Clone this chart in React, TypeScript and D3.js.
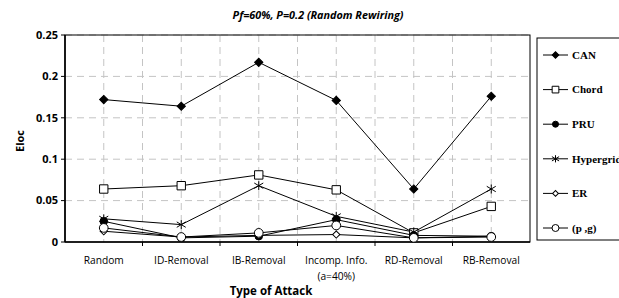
import React from 'react'
import * as d3 from 'd3'

const categories = [
  ['Random'],
  ['ID-Removal'],
  ['IB-Removal'],
  ['Incomp. Info.', '(a=40%)'],
  ['RD-Removal'],
  ['RB-Removal']
]
const yTicks = [0, 0.05, 0.1, 0.15, 0.2, 0.25]
const yTickLabels = ['0', '0.05', '0.1', '0.15', '0.2', '0.25']

const canValues = [0.172, 0.164, 0.217, 0.171, 0.064, 0.176]
const chordValues = [0.064, 0.068, 0.081, 0.063, 0.011, 0.043]
const pruValues = [0.025, 0.005, 0.007, 0.027, 0.008, 0.007]
const hyperValues = [0.028, 0.021, 0.068, 0.031, 0.012, 0.064]
const erValues = [0.013, 0.006, 0.008, 0.009, 0.005, 0.007]
const pgValues = [0.017, 0.006, 0.011, 0.020, 0.005, 0.006]

const seriesNames = ['CAN', 'Chord', 'PRU', 'Hypergrid', 'ER', '(p ,g)']

type Marker = 'diamondFilled' | 'square' | 'circleFilled' | 'star' | 'diamondOpen' | 'circleOpen'

const seriesList: { name: string; values: number[]; marker: Marker }[] = [
  { name: seriesNames[0], values: canValues, marker: 'diamondFilled' },
  { name: seriesNames[1], values: chordValues, marker: 'square' },
  { name: seriesNames[2], values: pruValues, marker: 'circleFilled' },
  { name: seriesNames[3], values: hyperValues, marker: 'star' },
  { name: seriesNames[4], values: erValues, marker: 'diamondOpen' },
  { name: seriesNames[5], values: pgValues, marker: 'circleOpen' }
]

function MarkerShape({ kind, x, y, scale = 1 }: { kind: Marker; x: number; y: number; scale?: number }) {
  if (kind === 'star') {
    const r = 4.5 * scale
    return <path transform={`translate(${x},${y})`} d={`M0,${-r}L0,${r}M${-r},${-r * 0.6}L${r},${r * 0.6}M${-r},${r * 0.6}L${r},${-r * 0.6}`} stroke="#000" strokeWidth={1} fill="none" />
  }
  const sizes: Record<string, number> = { diamondFilled: 34, square: 70, circleFilled: 45, diamondOpen: 26, circleOpen: 60 }
  const isDiamond = kind === 'diamondFilled' || kind === 'diamondOpen'
  const type = kind === 'circleFilled' || kind === 'circleOpen' ? d3.symbolCircle : d3.symbolSquare
  const filled = kind === 'diamondFilled' || kind === 'circleFilled'
  const d = d3.symbol().type(type).size(sizes[kind] * scale * scale)() || ''
  return <path transform={`translate(${x},${y})${isDiamond ? ' rotate(45)' : ''}`} d={d} fill={filled ? '#000' : '#fff'} stroke="#000" strokeWidth={1} />
}

export default function App() {
  const width = 619
  const height = 298
  const plot = { left: 65, right: 530, top: 35, bottom: 242 }

  const x = d3.scaleBand<number>().domain(d3.range(categories.length)).range([plot.left, plot.right]).padding(0)
  const y = d3.scaleLinear().domain([0, 0.25]).range([plot.bottom, plot.top])
  const bw = x.bandwidth()
  const cx = (i: number) => (x(i) as number) + bw / 2
  const line = d3.line<number>().x((_, i) => cx(i)).y(v => y(v))

  const vGrid: number[] = []
  categories.forEach((_, i) => {
    vGrid.push(cx(i))
    if (i > 0) vGrid.push(x(i) as number)
  })

  const sans = "'Open Sans', 'Liberation Sans', sans-serif"
  const legend = { x: 537, y: 38, w: 90, h: 202, lineX1: 543, lineX2: 568, step: 34.6, first: 55 }

  return (
    <svg width={width} height={height} style={{ position: 'absolute', left: 0, top: 0, background: '#fff' }}>
      <text x={318} y={19} textAnchor="middle" fontFamily={sans} fontSize={10.8} fontWeight="bold" fontStyle="italic">Pf=60%, P=0.2 (Random Rewiring)</text>

      {yTicks.slice(1).map(t => (
        <line key={`hg${t}`} x1={plot.left} x2={plot.right} y1={y(t)} y2={y(t)} stroke="#c4c4c4" strokeDasharray="7,5" />
      ))}
      {vGrid.map((g, i) => (
        <line key={`vg${i}`} x1={g} x2={g} y1={plot.top} y2={plot.bottom} stroke="#c4c4c4" strokeDasharray="7,5" />
      ))}

      <rect x={plot.left} y={plot.top} width={plot.right - plot.left} height={plot.bottom - plot.top} fill="none" stroke="#000" strokeWidth={1} />
      <line x1={plot.left} x2={plot.left} y1={plot.top} y2={plot.bottom} stroke="#000" strokeWidth={1.6} />
      <line x1={plot.left} x2={plot.right} y1={plot.bottom} y2={plot.bottom} stroke="#000" strokeWidth={1.6} />

      {yTicks.map((t, i) => (
        <g key={`yt${t}`}>
          <line x1={plot.left - 4} x2={plot.left} y1={y(t)} y2={y(t)} stroke="#000" />
          <text x={plot.left - 7} y={y(t)} dy="0.35em" textAnchor="end" fontFamily={sans} fontSize={11} fontWeight="bold">{yTickLabels[i]}</text>
        </g>
      ))}
      {categories.map((_, i) => i > 0 && (
        <line key={`xt${i}`} x1={x(i) as number} x2={x(i) as number} y1={plot.bottom} y2={plot.bottom + 4} stroke="#000" />
      ))}
      {categories.map((lines, i) => (
        <text key={`xl${i}`} x={cx(i)} y={264} textAnchor="middle" fontFamily={sans} fontSize={10.2}>
          {lines.map((l, j) => <tspan key={j} x={cx(i)} dy={j === 0 ? 0 : 16}>{l}</tspan>)}
        </text>
      ))}

      <text x={271} y={295} textAnchor="middle" fontFamily={sans} fontSize={11.5} fontWeight="bold">Type of Attack</text>
      <text transform={`translate(24,141) rotate(-90)`} textAnchor="middle" fontFamily={sans} fontSize={11} fontWeight="bold">Eloc</text>

      {seriesList.map(s => (
        <path key={`l${s.name}`} d={line(s.values) || ''} fill="none" stroke="#000" strokeWidth={1} />
      ))}
      {seriesList.map(s => (
        <g key={`m${s.name}`}>
          {s.values.map((v, i) => <MarkerShape key={i} kind={s.marker} x={cx(i)} y={y(v)} />)}
        </g>
      ))}

      <rect x={legend.x} y={legend.y} width={legend.w} height={legend.h} fill="#fff" stroke="#000" />
      {seriesList.map((s, i) => {
        const ly = legend.first + i * legend.step
        return (
          <g key={`lg${s.name}`}>
            <line x1={legend.lineX1} x2={legend.lineX2} y1={ly} y2={ly} stroke="#000" />
            <MarkerShape kind={s.marker} x={(legend.lineX1 + legend.lineX2) / 2} y={ly} scale={0.8} />
            <text x={572} y={ly} dy="0.35em" fontFamily="'Liberation Serif', serif" fontSize={11} fontWeight="bold">{s.name}</text>
          </g>
        )
      })}
    </svg>
  )
}
